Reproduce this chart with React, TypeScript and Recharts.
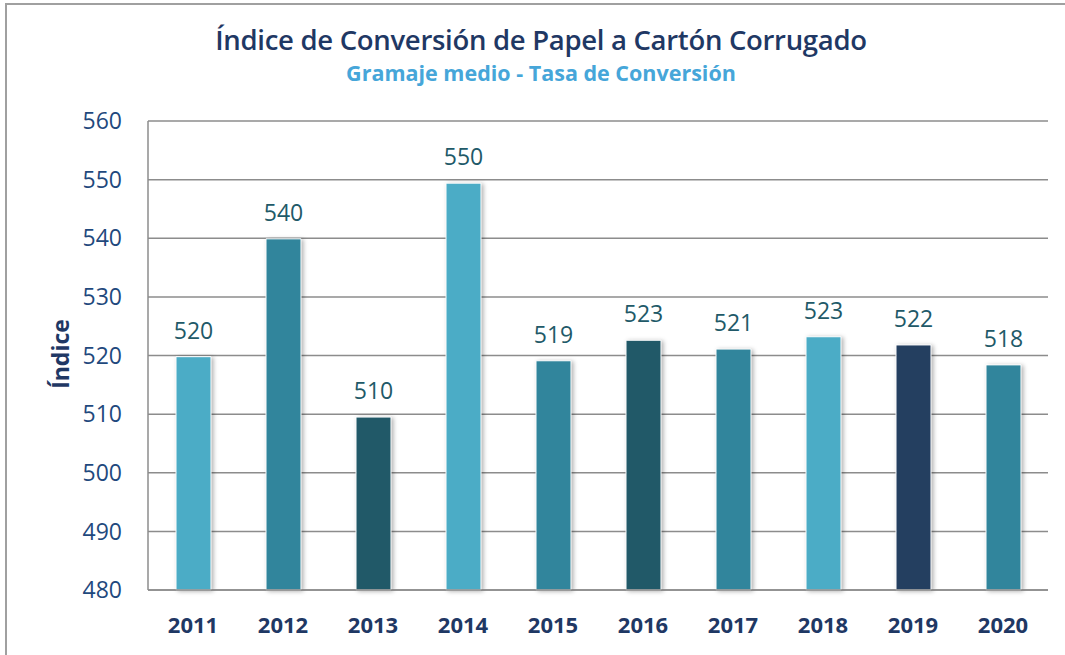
import React from "react";
import {
  Bar,
  BarChart,
  CartesianGrid,
  Cell,
  LabelList,
  XAxis,
  YAxis,
} from "recharts";

const years = ["2011", "2012", "2013", "2014", "2015", "2016", "2017", "2018", "2019", "2020"];
const indexValues = [519.8, 539.9, 509.5, 549.4, 519.1, 522.6, 521.1, 523.2, 521.8, 518.4];
const indexLabels = ["520", "540", "510", "550", "519", "523", "521", "523", "522", "518"];
const barColors = [
  "#4BACC6",
  "#31859C",
  "#215968",
  "#4BACC6",
  "#31859C",
  "#215968",
  "#31859C",
  "#4BACC6",
  "#243F60",
  "#31859C",
];
const yTicks = [480, 490, 500, 510, 520, 530, 540, 550, 560];

const FONT = "'Open Sans', 'Noto Sans', sans-serif";
const GRID = "#8c8c8c";

type Row = { year: string; value: number; label: string };

export default function App() {
  const data: Row[] = years.map((year, i) => ({
    year,
    value: indexValues[i],
    label: indexLabels[i],
  }));

  return (
    <div
      style={{
        position: "relative",
        width: 1065,
        height: 655,
        overflow: "hidden",
        background: "#fff",
        fontFamily: FONT,
      }}
    >
      <style>{"body{margin:0}"}</style>
      <div
        style={{
          position: "absolute",
          left: 0,
          width: 1082,
          top: 23,
          textAlign: "center",
          fontSize: 27.5,
          fontWeight: 600,
          color: "#1F3864",
          letterSpacing: -0.3,
          lineHeight: "34px",
        }}
      >
        Índice de Conversión de Papel a Cartón Corrugado
      </div>
      <div
        style={{
          position: "absolute",
          left: 0,
          width: 1082,
          top: 59,
          textAlign: "center",
          fontSize: 21.5,
          fontWeight: 700,
          color: "#46A6D9",
          lineHeight: "28px",
        }}
      >
        Gramaje medio - Tasa de Conversión
      </div>
      <div
        style={{
          position: "absolute",
          left: 60,
          top: 354,
          transform: "translate(-50%, -50%) rotate(-90deg)",
          fontSize: 23,
          fontWeight: 700,
          color: "#1F3864",
          whiteSpace: "nowrap",
        }}
      >
        Índice
      </div>
      <div style={{ position: "absolute", left: 0, top: 0 }}>
        <BarChart
          width={1065}
          height={655}
          data={data}
          margin={{ top: 121, right: 17, bottom: 0, left: 0 }}
          barSize={35}
        >
          <CartesianGrid vertical={false} stroke={GRID} strokeWidth={1.5} />
          <XAxis
            dataKey="year"
            height={65}
            axisLine={{ stroke: GRID, strokeWidth: 1.5 }}
            tickLine={false}
            tickSize={0}
            tickMargin={27}
            tick={{ fontSize: 22, fontWeight: 700, fill: "#1F3864", fontFamily: FONT }}
          />
          <YAxis
            domain={[480, 560]}
            ticks={yTicks}
            width={148}
            axisLine={{ stroke: GRID, strokeWidth: 1.5 }}
            tickLine={false}
            tickSize={0}
            tickMargin={26}
            tick={{ fontSize: 23, fill: "#1F497D", fontFamily: FONT }}
          />
          <Bar dataKey="value" isAnimationActive={false} stroke="#ffffff" strokeWidth={1}>
            {data.map((d, i) => (
              <Cell
                key={d.year}
                fill={barColors[i]}
                style={{ filter: "drop-shadow(2px 1px 2px rgba(0,0,0,0.3))" }}
              />
            ))}
            <LabelList
              dataKey="label"
              position="top"
              offset={18}
              style={{ fontSize: 23, fill: "#215968", fontFamily: FONT }}
            />
          </Bar>
        </BarChart>
      </div>
      {/* marco: borde superior e izquierdo */}
      <div
        style={{
          position: "absolute",
          left: 5,
          top: 3,
          width: 1200,
          height: 2,
          background: "#a0a0a0",
        }}
      />
      <div
        style={{
          position: "absolute",
          left: 5,
          top: 3,
          width: 2,
          height: 800,
          background: "#a0a0a0",
        }}
      />
    </div>
  );
}
